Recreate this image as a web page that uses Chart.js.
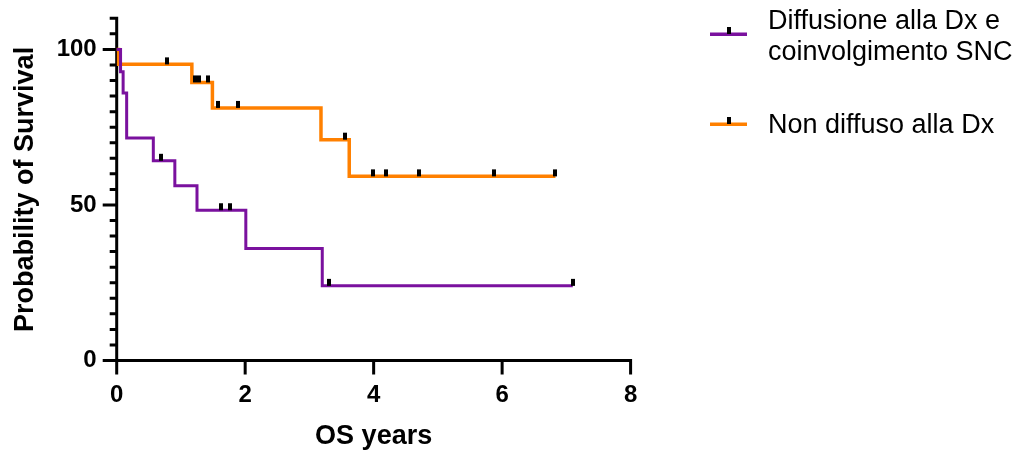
<!DOCTYPE html>
<html>
<head>
<meta charset="utf-8">
<title>OS years</title>
<script src="https://cdn.jsdelivr.net/npm/chart.js@4/dist/chart.umd.min.js"></script>
<style>
  html, body { margin: 0; padding: 0; background: #fff; }
  #wrap { position: relative; width: 1026px; height: 453px; }
</style>
</head>
<body>
<div id="wrap"><canvas id="kmChart" width="1026" height="453"></canvas></div>
<script>
// Kaplan-Meier curves (x = years, y = % surviving)
const seriesNames = [['Diffusione alla Dx e', 'coinvolgimento SNC'], ['Non diffuso alla Dx']];

const diffTimes = [0, 0.06, 0.10, 0.155, 0.57, 0.905, 1.25, 2.01, 3.20, 7.10];
const diffSurv = [100, 92.8, 86.0, 71.5, 64.2, 56.2, 48.3, 36.0, 24.0, 24.0];
const diffCensorTimes = [0.685, 1.62, 1.765, 3.305, 7.10];
const diffCensorSurv = [64.2, 48.3, 48.3, 24.0, 24.0];

const nonTimes = [0, 0.03, 1.17, 1.49, 3.18, 3.62, 6.83];
const nonSurv = [100, 95.2, 89.4, 81.2, 71.0, 59.2, 59.2];
const nonCensorTimes = [0.78, 1.22, 1.28, 1.42, 1.57, 1.89, 3.56, 3.99, 4.19, 4.71, 5.88, 6.83];
const nonCensorSurv = [95.2, 89.4, 89.4, 89.4, 81.2, 81.2, 71.0, 59.2, 59.2, 59.2, 59.2, 59.2];

const xTickValues = [0, 2, 4, 6, 8];
const yLabelValues = [0, 50, 100];

const PURPLE = '#7a119e';
const ORANGE = '#ff8000';
const FONT = "'Liberation Sans', Arial, sans-serif";

// small black censor tick, sitting on top of the curve
function makeCensorMark() {
    const c = document.createElement('canvas');
    c.width = 4;
    c.height = 16;
    const g = c.getContext('2d');
    g.fillStyle = '#000';
    g.fillRect(0, 1, 4, 7);
    return c;
}
const censorMark = makeCensorMark();

function toPoints(xs, ys) {
    return xs.map((x, i) => ({ x: x, y: ys[i] }));
}

// Axes with long major / short minor ticks
const axesPlugin = {
    id: 'prismAxes',
    beforeDatasetsDraw(chart) {
        const ctx = chart.ctx;
        const xs = chart.scales.x;
        const ys = chart.scales.y;
        const left = xs.getPixelForValue(0);
        const right = xs.getPixelForValue(8);
        const bottom = ys.getPixelForValue(0);
        const top = ys.getPixelForValue(110);

        ctx.save();
        ctx.strokeStyle = '#000';
        ctx.lineWidth = 3;
        ctx.lineCap = 'butt';
        ctx.beginPath();
        ctx.moveTo(left, top - 1.5);
        ctx.lineTo(left, bottom + 1.5);
        ctx.moveTo(left - 1.5, bottom);
        ctx.lineTo(right + 1.5, bottom);

        ys.ticks.forEach(t => {
            const y = ys.getPixelForValue(t.value);
            const len = yLabelValues.includes(t.value) ? 14 : 7;
            ctx.moveTo(left - len, y);
            ctx.lineTo(left, y);
        });
        xTickValues.forEach(v => {
            const x = xs.getPixelForValue(v);
            ctx.moveTo(x, bottom);
            ctx.lineTo(x, bottom + 14);
        });
        ctx.stroke();
        ctx.restore();
    }
};

// Legend on the right, line sample with a censor tick
const legendPlugin = {
    id: 'kmLegend',
    afterDraw(chart) {
        const ctx = chart.ctx;
        const spots = [{ lineY: 34, baselines: [28.5, 59.5] }, { lineY: 124, baselines: [133] }];
        const colors = [PURPLE, ORANGE];
        ctx.save();
        spots.forEach((s, i) => {
            ctx.fillStyle = colors[i];
            ctx.fillRect(710, s.lineY - 1.5, 37, 3.5);
            ctx.drawImage(censorMark, 728.5 - 2, s.lineY - 8);
            ctx.fillStyle = '#000';
            ctx.font = '27px ' + FONT;
            ctx.textAlign = 'left';
            ctx.textBaseline = 'alphabetic';
            seriesNames[i].forEach((txt, j) => ctx.fillText(txt, 768, s.baselines[j]));
        });
        ctx.restore();
    }
};

const ctx = document.getElementById('kmChart').getContext('2d');
const chart = new Chart(ctx, {
    type: 'line',
    data: {
        datasets: [
            {
                label: 'censored 1',
                data: toPoints(diffCensorTimes, diffCensorSurv),
                showLine: false,
                pointStyle: censorMark,
                pointRadius: 4,
                order: 0,
                clip: false
            },
            {
                label: 'censored 2',
                data: toPoints(nonCensorTimes, nonCensorSurv),
                showLine: false,
                pointStyle: censorMark,
                pointRadius: 4,
                order: 0,
                clip: false
            },
            {
                label: seriesNames[0].join(' '),
                data: toPoints(diffTimes, diffSurv),
                stepped: 'before',
                borderColor: PURPLE,
                borderWidth: 3,
                pointRadius: 0,
                fill: false,
                order: 1,
                clip: false
            },
            {
                label: seriesNames[1].join(' '),
                data: toPoints(nonTimes, nonSurv),
                stepped: 'before',
                borderColor: ORANGE,
                borderWidth: 3.5,
                pointRadius: 0,
                fill: false,
                order: 2,
                clip: false
            }
        ]
    },
    options: {
        responsive: false,
        animation: false,
        devicePixelRatio: 1,
        layout: { padding: { top: 18.3, left: 0, right: 395.4, bottom: 0 } },
        plugins: {
            legend: { display: false },
            tooltip: { enabled: false }
        },
        scales: {
            x: {
                type: 'linear',
                min: 0,
                max: 8,
                afterFit: s => {
                    s.height = 92.5;
                    s.paddingLeft = 0;
                    s.paddingRight = 0;
                },
                afterBuildTicks: s => { s.ticks = xTickValues.map(v => ({ value: v })); },
                grid: { display: false, drawTicks: false },
                border: { display: false },
                ticks: {
                    color: '#000',
                    padding: 20,
                    font: { family: FONT, size: 24, weight: 'bold' }
                },
                title: {
                    display: true,
                    text: 'OS years',
                    color: '#000',
                    padding: { top: 0, bottom: 0 },
                    font: { family: FONT, size: 27, weight: 'bold' }
                }
            },
            y: {
                type: 'linear',
                min: 0,
                max: 110,
                afterFit: s => {
                    s.width = 116.7;
                    s.paddingTop = 0;
                    s.paddingBottom = 0;
                },
                grid: { display: false, drawTicks: false },
                border: { display: false },
                ticks: {
                    stepSize: 5,
                    autoSkip: false,
                    color: '#000',
                    padding: 20,
                    font: { family: FONT, size: 24, weight: 'bold' },
                    callback: v => (yLabelValues.includes(v) ? String(v) : '')
                },
                title: {
                    display: true,
                    text: 'Probability of Survival',
                    color: '#000',
                    padding: { top: 9, bottom: 0 },
                    font: { family: FONT, size: 27, weight: 'bold' }
                }
            }
        }
    },
    plugins: [axesPlugin, legendPlugin]
});
</script>
</body>
</html>
